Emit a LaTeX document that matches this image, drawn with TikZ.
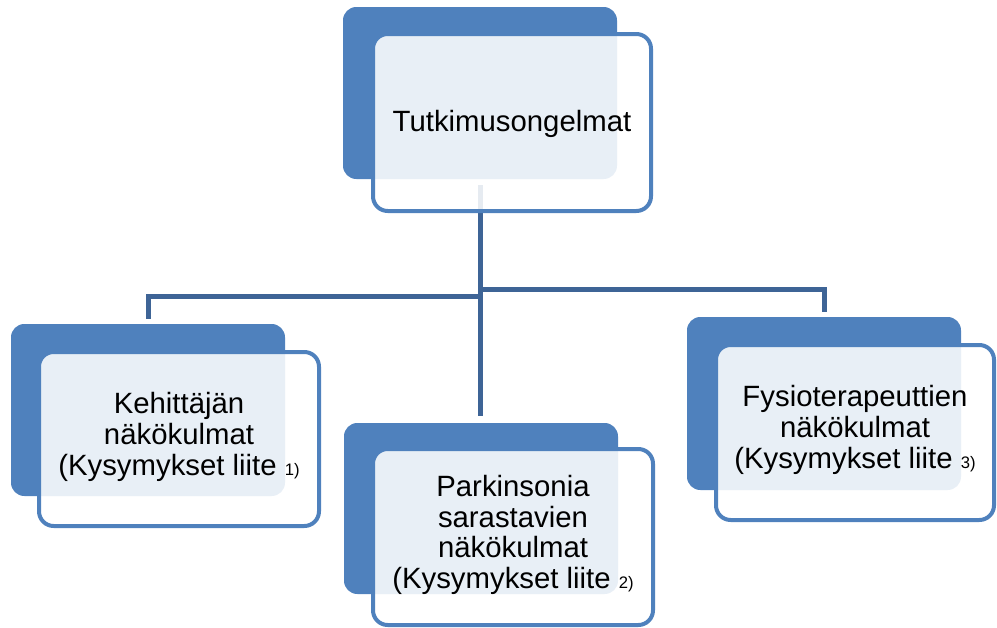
\documentclass[tikz,border=0pt]{standalone}
\usepackage{fontspec}
\setmainfont{Liberation Sans}
\usetikzlibrary{fit}
\definecolor{accent}{RGB}{79,129,189}
\definecolor{conncol}{RGB}{62,100,150}
\newcommand\smallnum[1]{{\fontsize{12.5}{12.5}\selectfont #1}}
\begin{document}
\begin{tikzpicture}[x=0.75pt,y=-0.75pt,
  back/.style={fill=accent, rounded corners=10pt, inner sep=0pt, draw=none},
  front/.style={draw=accent, line width=3pt, fill=white, fill opacity=0.875,
    rounded corners=11pt, inner sep=0pt},
  label/.style={align=center, text=black, inner sep=0pt,
    font=\fontsize{22}{23}\selectfont},
  conn/.style={draw=conncol, line width=3.75pt},
]
\useasboundingbox (0,0) rectangle (997,628);
% back plates
\node[back, fit={(343,7)(617,179)}] (b0) {};
\node[back, fit={(11,324)(285,496)}] (b1) {};
\node[back, fit={(344,423)(618,594)}] (b2) {};
\node[back, fit={(687,317)(961,490)}] (b3) {};
% connectors
\coordinate (t0) at (480,185);
\coordinate (jl) at (480,296);
\coordinate (jr) at (480,289);
\coordinate (lEnd) at (148,319);
\coordinate (mEnd) at (480,416);
\coordinate (rEnd) at (824,312);
\draw[conn] (t0) -- (mEnd);
\draw[conn] (jl) -| (lEnd);
\draw[conn] (jr) -| (rEnd);
% front boxes
\node[front, fit={(373,34)(651,211)}] (f0) {};
\node[front, fit={(39,352)(319,526)}] (f1) {};
\node[front, fit={(373,449)(653,625)}] (f2) {};
\node[front, fit={(716,345)(994,520)}] (f3) {};
% texts
\node[label] (t0l) at (512,124) {Tutkimusongelmat};
\node[label] (t1l) at (179,437) {Kehittäjän\\näkökulmat\\(Kysymykset liite \smallnum{1)}};
\node[label] (t2l) at (513,535) {Parkinsonia\\sarastavien\\näkökulmat\\(Kysymykset liite \smallnum{2)}};
\node[label] (t3l) at (855,430) {Fysioterapeuttien\\näkökulmat\\(Kysymykset liite \smallnum{3)}};
\end{tikzpicture}
\end{document}
